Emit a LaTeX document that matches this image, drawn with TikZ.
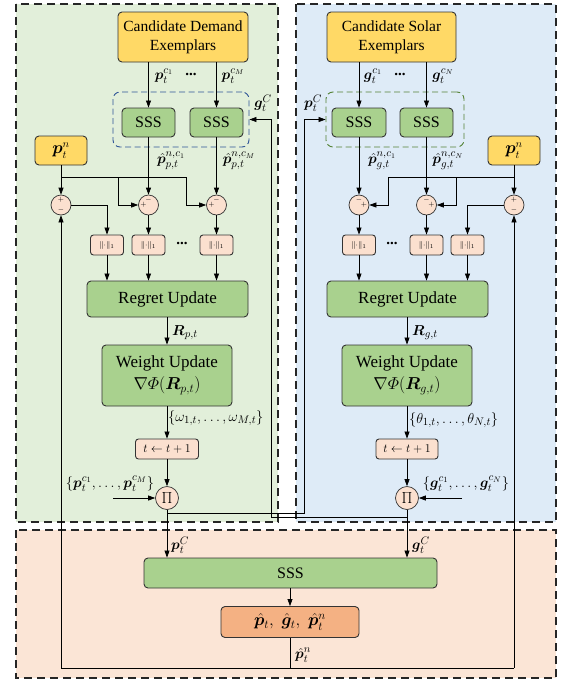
\documentclass[tikz,border=0pt]{standalone}
\usepackage{amsmath,bm}
\usepackage{fontspec}
\setmainfont{Liberation Serif}
\usetikzlibrary{arrows.meta}
\definecolor{pgreen}{HTML}{E2EFDA}
\definecolor{pblue}{HTML}{DEEBF7}
\definecolor{porange}{HTML}{FBE5D6}
\definecolor{gold}{HTML}{FFD966}
\definecolor{boxgreen}{HTML}{A9D18E}
\definecolor{peach}{HTML}{FBE0CF}
\definecolor{outorange}{HTML}{F4B183}
\definecolor{dblue}{HTML}{2F5597}
\definecolor{dgreen}{HTML}{548235}
\newcommand{\mydots}{\textbf{\raisebox{3pt}{...}}}
\tikzset{
  panel/.style={draw=black!85, line width=1.5pt, dash pattern=on 8pt off 5pt},
  bx/.style={draw=black!80, line width=0.9pt, rounded corners=4pt, inner sep=0pt, align=center},
  goldbox/.style={bx, fill=gold},
  greenbox/.style={bx, fill=boxgreen},
  normbox/.style={bx, fill=peach, rounded corners=3pt, minimum width=33pt, minimum height=20pt, font=\fontsize{8.5}{9}\selectfont},
  sumc/.style={circle, draw=black!80, line width=0.7pt, fill=peach, minimum size=20pt, inner sep=0pt},
  pic/.style={circle, draw=black!80, line width=0.7pt, fill=peach, minimum size=23pt, inner sep=0pt, font=\fontsize{11}{11}\selectfont},
  sgn/.style={inner sep=0pt, font=\fontsize{7.5}{7.5}\selectfont},
  arr/.style={-{Triangle[length=7pt,width=5pt]}, line width=0.7pt},
  ln/.style={line width=0.7pt},
  lbl/.style={inner sep=0pt, font=\fontsize{15}{17}\selectfont},
  setlbl/.style={inner sep=0pt, font=\fontsize{15.5}{17}\selectfont},
  dbox/.style={rounded corners=7pt, line width=0.9pt, dash pattern=on 6pt off 3.5pt, inner sep=0pt}
}
\begin{document}
\begin{tikzpicture}[x=1pt,y=-1pt]
\useasboundingbox (0,0) rectangle (563,683);
% panels
\path[panel, fill=pgreen] (16,4) rectangle (278,522);
\path[panel, fill=pblue] (296,4) rectangle (556,522);
\path[panel, fill=porange] (16,530) rectangle (556,678);

% ---------- left ----------
\node[goldbox, minimum width=130pt, minimum height=50pt, font=\fontsize{15.5}{19}\selectfont] (demand) at (183,37) {Candidate Demand\\Exemplars};
\node[dbox, draw=dblue, minimum width=136pt, minimum height=55pt] (dbL) at (181,119.5) {};
\node[greenbox, minimum width=53pt, minimum height=29pt, font=\fontsize{16}{16}\selectfont] (sL1) at (148.5,122.5) {SSS};
\node[greenbox, minimum width=53pt, minimum height=29pt, font=\fontsize{16}{16}\selectfont] (sL2) at (216.5,122.5) {SSS};
\node[goldbox, minimum width=52pt, minimum height=29pt, font=\fontsize{16}{16}\selectfont] (pnL) at (61,150.5) {$\bm{p}_t^n$};

\draw[arr] (demand.south -| sL1) -- (sL1.north);
\draw[arr] (demand.south -| sL2) -- (sL2.north);
\node[lbl] (lpc1) at (164,76) {$\bm{p}_t^{c_1}$};
\node[lbl] (ldL) at (191,76) {\mydots};
\node[lbl] (lpcM) at (233,76) {$\bm{p}_t^{c_M}$};

\node[sumc] (cL1) at (61,205) {};
\node[sumc] (cL2) at (148.5,205) {};
\node[sumc] (cL3) at (216.5,205) {};
\node[sgn] at ([yshift=5pt]cL1.center) {$+$};
\node[sgn] at ([yshift=-5pt]cL1.center) {$-$};
\node[sgn] at ([yshift=5pt]cL2.center) {$-$};
\node[sgn] at ([xshift=-5pt]cL2.center) {$+$};
\node[sgn] at ([yshift=5pt]cL3.center) {$-$};
\node[sgn] at ([xshift=-5pt]cL3.center) {$+$};

\draw[arr] (sL1.south) -- (cL2.north);
\draw[arr] (sL2.south) -- (cL3.north);
\node[lbl] (lhL1) at (171,161) {$\hat{\bm{p}}_{p,t}^{n,c_1}$};
\node[lbl] (lhL2) at (239,161) {$\hat{\bm{p}}_{p,t}^{n,c_M}$};

\coordinate (jL0) at (61,177);
\coordinate (jL1) at (118,177);
\coordinate (jL2) at (186,177);
\draw[arr] (pnL.south) -- (cL1.north);
\draw[ln] (jL0) -- (jL2);
\draw[arr] (jL1) |- (cL2.west);
\draw[arr] (jL2) |- (cL3.west);

\node[normbox] (nL1) at (107,245) {$\|{\cdot}\|_1$};
\node[normbox] (nL2) at (148.5,245) {$\|{\cdot}\|_1$};
\node[normbox] (nL3) at (216.5,245) {$\|{\cdot}\|_1$};
\node[lbl] (ndL) at (182,245) {\mydots};
\draw[arr] (cL1.east) -| (nL1.north);
\draw[arr] (cL2.south) -- (nL2.north);
\draw[arr] (cL3.south) -- (nL3.north);

\node[greenbox, minimum width=161pt, minimum height=36pt, font=\fontsize{17}{17}\selectfont] (regL) at (167.5,299) {Regret Update};
\draw[arr] (nL1.south) -- (nL1.south |- regL.north);
\draw[arr] (nL2.south) -- (nL2.south |- regL.north);
\draw[arr] (nL3.south) -- (nL3.south |- regL.north);

\node[greenbox, minimum width=130pt, minimum height=61pt, font=\fontsize{17}{22}\selectfont] (wL) at (167,375.5) {Weight Update\\$\nabla\varPhi(\bm{R}_{p,t})$};
\draw[arr] (regL.south -| wL) -- (wL.north);
\node[lbl, anchor=west] (lRL) at (172,333) {$\bm{R}_{p,t}$};

\node[normbox, minimum width=63pt, font=\fontsize{12}{12}\selectfont] (tL) at (167,449) {$t\leftarrow t+1$};
\draw[arr] (wL.south) -- (tL.north);
\node[setlbl, anchor=west] (lwL) at (168,418) {$\{\omega_{1,t},\dots,\omega_{M,t}\}$};

\node[pic] (piL) at (167,498) {$\prod$};
\draw[arr] (tL.south) -- (piL.north);
\coordinate (inL) at (113,498);
\draw[arr] (inL) -- (piL.west);
\node[setlbl] (lsetL) at (110,484) {$\{\bm{p}_t^{c_1},\dots,\bm{p}_t^{c_M}\}$};

% ---------- right ----------
\node[goldbox, minimum width=129pt, minimum height=50pt, font=\fontsize{15.5}{19}\selectfont] (solar) at (391.5,37) {Candidate Solar\\Exemplars};
\node[dbox, draw=dgreen, minimum width=138pt, minimum height=55pt] (dbR) at (395,119.5) {};
\node[greenbox, minimum width=54pt, minimum height=29pt, font=\fontsize{16}{16}\selectfont] (sR1) at (359,122.5) {SSS};
\node[greenbox, minimum width=53pt, minimum height=29pt, font=\fontsize{16}{16}\selectfont] (sR2) at (426.5,122.5) {SSS};
\node[goldbox, minimum width=52pt, minimum height=29pt, font=\fontsize{16}{16}\selectfont] (pnR) at (514,150.5) {$\bm{p}_t^n$};

\draw[arr] (solar.south -| sR1) -- (sR1.north);
\draw[arr] (solar.south -| sR2) -- (sR2.north);
\node[lbl] (lgc1) at (373,76) {$\bm{g}_t^{c_1}$};
\node[lbl] (ldR) at (400,76) {\mydots};
\node[lbl] (lgcN) at (443,76) {$\bm{g}_t^{c_N}$};

\node[sumc] (cR1) at (359,205) {};
\node[sumc] (cR2) at (426.5,205) {};
\node[sumc] (cR3) at (514,205) {};
\node[sgn] at ([yshift=5pt]cR1.center) {$-$};
\node[sgn] at ([xshift=5pt]cR1.center) {$+$};
\node[sgn] at ([yshift=5pt]cR2.center) {$-$};
\node[sgn] at ([xshift=5pt]cR2.center) {$+$};
\node[sgn] at ([yshift=5pt]cR3.center) {$+$};
\node[sgn] at ([yshift=-5pt]cR3.center) {$-$};

\draw[arr] (sR1.south) -- (cR1.north);
\draw[arr] (sR2.south) -- (cR2.north);
\node[lbl] (lhR1) at (382,161) {$\hat{\bm{p}}_{g,t}^{n,c_1}$};
\node[lbl] (lhR2) at (448,161) {$\hat{\bm{p}}_{g,t}^{n,c_N}$};

\coordinate (jR0) at (514,177);
\coordinate (jR1) at (456,177);
\coordinate (jR2) at (388,177);
\draw[arr] (pnR.south) -- (cR3.north);
\draw[ln] (jR0) -- (jR2);
\draw[arr] (jR1) |- (cR2.east);
\draw[arr] (jR2) |- (cR1.east);

\node[normbox] (nR1) at (359,245) {$\|{\cdot}\|_1$};
\node[normbox] (nR2) at (426.5,245) {$\|{\cdot}\|_1$};
\node[normbox] (nR3) at (467.5,245) {$\|{\cdot}\|_1$};
\node[lbl] (ndR) at (392,245) {\mydots};
\draw[arr] (cR3.west) -| (nR3.north);
\draw[arr] (cR1.south) -- (nR1.north);
\draw[arr] (cR2.south) -- (nR2.north);

\node[greenbox, minimum width=161pt, minimum height=36pt, font=\fontsize{17}{17}\selectfont] (regR) at (407.5,299) {Regret Update};
\draw[arr] (nR1.south) -- (nR1.south |- regR.north);
\draw[arr] (nR2.south) -- (nR2.south |- regR.north);
\draw[arr] (nR3.south) -- (nR3.south |- regR.north);

\node[greenbox, minimum width=130pt, minimum height=61pt, font=\fontsize{17}{22}\selectfont] (wR) at (407,375.5) {Weight Update\\$\nabla\varPhi(\bm{R}_{g,t})$};
\draw[arr] (regR.south -| wR) -- (wR.north);
\node[lbl, anchor=west] (lRR) at (412,333) {$\bm{R}_{g,t}$};

\node[normbox, minimum width=62pt, font=\fontsize{12}{12}\selectfont] (tR) at (407,449) {$t\leftarrow t+1$};
\draw[arr] (wR.south) -- (tR.north);
\node[setlbl, anchor=west] (lwR) at (409,420) {$\{\theta_{1,t},\dots,\theta_{N,t}\}$};

\node[pic] (piR) at (407,498) {$\prod$};
\draw[arr] (tR.south) -- (piR.north);
\coordinate (inR) at (462,498);
\draw[arr] (inR) -- (piR.east);
\node[setlbl] (lsetR) at (466,484) {$\{\bm{g}_t^{c_1},\dots,\bm{g}_t^{c_N}\}$};

% ---------- bottom ----------
\node[greenbox, minimum width=293pt, minimum height=30pt, font=\fontsize{16}{16}\selectfont] (sssB) at (290.5,573) {SSS};
\node[bx, fill=outorange, minimum width=138pt, minimum height=31pt, font=\fontsize{17}{17}\selectfont] (outB) at (290,622) {$\hat{\bm{p}}_t,\;\hat{\bm{g}}_t,\;\hat{\bm{p}}_t^n$};
\draw[arr] (sssB.south -| outB) -- (outB.north);

\draw[arr] (piL.south) -- (piL.south |- sssB.north);
\draw[arr] (piR.south) -- (piR.south |- sssB.north);
\node[lbl, anchor=west] (lpC) at (171,545) {$\bm{p}_t^{C}$};
\node[lbl, anchor=west] (lgC) at (412,545) {$\bm{g}_t^{C}$};

% cross links
\coordinate (kL) at (167,513);
\coordinate (kL1) at (304,513);
\coordinate (kL2) at (304,119.5);
\draw[arr] (kL) -- (kL1) -- (kL2) -- (dbR.west);
\coordinate (kR) at (407,517);
\coordinate (kR1) at (271,517);
\coordinate (kR2) at (271,119.5);
\draw[arr] (kR) -- (kR1) -- (kR2) -- (dbL.east);
\node[lbl] (lgCt) at (263,103) {$\bm{g}_t^{C}$};
\node[lbl] (lpCt) at (313,103) {$\bm{p}_t^{C}$};

% feedback
\coordinate (bL) at (61,668);
\coordinate (bM) at (290,668);
\coordinate (bR) at (514,668);
\draw[ln] (outB.south) -- (bM);
\draw[ln] (bL) -- (bR);
\draw[arr] (bL) -- (cL1.south);
\draw[arr] (bR) -- (cR3.south);
\node[lbl, anchor=west] (lpn) at (295,655) {$\hat{\bm{p}}_t^n$};
\end{tikzpicture}
\end{document}
